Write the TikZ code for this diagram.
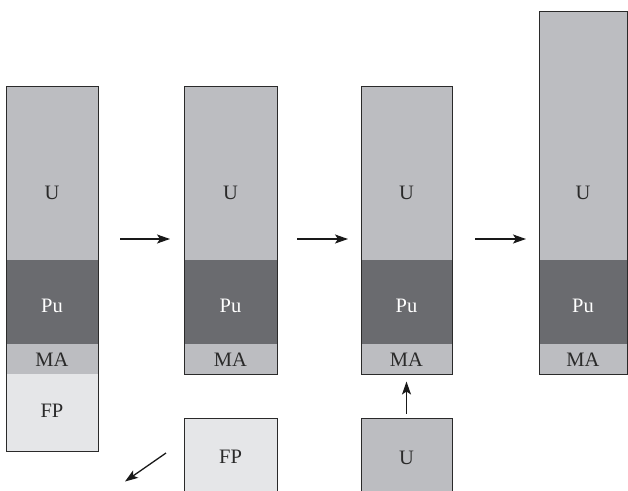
\documentclass[tikz,border=0pt]{standalone}
\usepackage{fontspec}
\setmainfont{Liberation Serif}
\usetikzlibrary{arrows.meta}
\definecolor{ucol}{HTML}{BCBDC1}
\definecolor{pucol}{HTML}{6A6B6F}
\definecolor{fpcol}{HTML}{E5E6E8}
\definecolor{edge}{HTML}{2A2A2A}
\definecolor{txt}{HTML}{2A2A2A}
\tikzset{
  seg/.style={inner sep=0pt, outer sep=0pt, draw=none},
  frame/.style={inner sep=0pt, outer sep=0pt, draw=edge, line width=0.9pt, fill=none},
  lab/.style={anchor=base, inner sep=0pt, font=\fontsize{20.5}{20.5}\selectfont, text=txt},
  wlab/.style={lab, text=white},
  flow/.style={draw=black!90, line width=1.3pt, -{Stealth[length=13pt,width=9pt,inset=3pt]}}
}
\begin{document}
\begin{tikzpicture}[x=1pt,y=-1pt]
\clip (0,0) rectangle (628,490);
\fill[white] (0,0) rectangle (628,490);
% column 1
\node[seg, fill=ucol, minimum width=92pt, minimum height=174pt] (c1u) at (52,173) {};
\node[seg, fill=pucol, minimum width=92pt, minimum height=84pt] (c1p) at (52,302) {};
\node[seg, fill=ucol, minimum width=92pt, minimum height=30pt] (c1m) at (52,359) {};
\node[seg, fill=fpcol, minimum width=92pt, minimum height=77pt] (c1f) at (52,412.5) {};
\node[frame, minimum width=92pt, minimum height=365pt] (c1) at (52,268.5) {};
\node[lab] (c1ut) at (52,199) {U};
\node[wlab] (c1pt) at (52,312) {Pu};
\node[lab] (c1mt) at (52,366.5) {MA};
\node[lab] (c1ft) at (52,417) {FP};
% column 2
\node[seg, fill=ucol, minimum width=93pt, minimum height=174pt] (c2u) at (230.5,173) {};
\node[seg, fill=pucol, minimum width=93pt, minimum height=84pt] (c2p) at (230.5,302) {};
\node[seg, fill=ucol, minimum width=93pt, minimum height=30pt] (c2m) at (230.5,359) {};
\node[frame, minimum width=93pt, minimum height=288pt] (c2) at (230.5,230) {};
\node[lab] (c2ut) at (230.5,199) {U};
\node[wlab] (c2pt) at (230.5,312) {Pu};
\node[lab] (c2mt) at (230.5,366.5) {MA};
% column 2 bottom FP
\node[frame, fill=fpcol, minimum width=93pt, minimum height=90pt] (b2) at (230.5,463) {};
\node[lab] (b2t) at (230.5,463) {FP};
% column 3
\node[seg, fill=ucol, minimum width=91pt, minimum height=174pt] (c3u) at (406.5,173) {};
\node[seg, fill=pucol, minimum width=91pt, minimum height=84pt] (c3p) at (406.5,302) {};
\node[seg, fill=ucol, minimum width=91pt, minimum height=30pt] (c3m) at (406.5,359) {};
\node[frame, minimum width=91pt, minimum height=288pt] (c3) at (406.5,230) {};
\node[lab] (c3ut) at (406.5,199) {U};
\node[wlab] (c3pt) at (406.5,312) {Pu};
\node[lab] (c3mt) at (406.5,366.5) {MA};
% column 3 bottom U
\node[frame, fill=ucol, minimum width=91pt, minimum height=90pt] (b3) at (406.5,463) {};
\node[lab] (b3t) at (406.5,464) {U};
% column 4
\node[seg, fill=ucol, minimum width=88pt, minimum height=249pt] (c4u) at (583,135.5) {};
\node[seg, fill=pucol, minimum width=88pt, minimum height=84pt] (c4p) at (583,302) {};
\node[seg, fill=ucol, minimum width=88pt, minimum height=30pt] (c4m) at (583,359) {};
\node[frame, minimum width=88pt, minimum height=363pt] (c4) at (583,192.5) {};
\node[lab] (c4ut) at (583,199) {U};
\node[wlab] (c4pt) at (583,312) {Pu};
\node[lab] (c4mt) at (583,366.5) {MA};
% arrows
\coordinate (a1s) at (120,239); \coordinate (a1e) at (170,239);
\coordinate (a2s) at (297,239); \coordinate (a2e) at (348,239);
\coordinate (a3s) at (475,239); \coordinate (a3e) at (526,239);
\coordinate (a4s) at (166,453); \coordinate (a4e) at (125,481.5);
\coordinate (a5s) at (406.5,413.5); \coordinate (a5e) at (406.5,381.5);
\draw[flow] (a1s) -- (a1e);
\draw[flow] (a2s) -- (a2e);
\draw[flow] (a3s) -- (a3e);
\draw[flow] (a4s) -- (a4e);
\draw[flow] (a5s) -- (a5e);
\end{tikzpicture}
\end{document}
